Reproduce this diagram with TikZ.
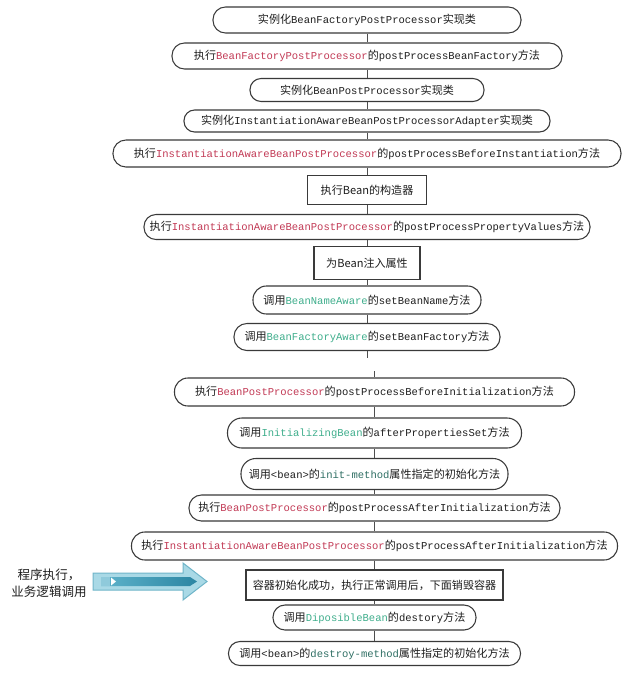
\documentclass[tikz,border=0pt]{standalone}
\usepackage{fontspec}
\setmainfont{Noto Sans CJK SC}
\newfontfamily\monofam{Liberation Mono}
\definecolor{cred}{HTML}{C23A55}
\definecolor{cgreen}{HTML}{3FAE8C}
\definecolor{cteal}{HTML}{2F6F64}
\definecolor{ctext}{HTML}{1E1E1E}
\definecolor{cedge}{HTML}{3A3A3A}
\definecolor{arrowout}{HTML}{A9D9E6}
\definecolor{arrowedge}{HTML}{6FB5C9}
\definecolor{arrowinA}{HTML}{5FB3CB}
\definecolor{arrowinB}{HTML}{2C86A3}
\newcommand\mcode[1]{{\monofam\fontsize{7.9}{9}\selectfont #1}}
\newcommand\rcode[1]{\textcolor{cred}{\mcode{#1}}}
\newcommand\gcode[1]{\textcolor{cgreen}{\mcode{#1}}}
\newcommand\tcode[1]{\textcolor{cteal}{\mcode{#1}}}
\tikzset{
  base/.style={draw=cedge, line width=0.8pt, inner sep=0pt, text=ctext,
    font=\fontsize{8.3}{10}\selectfont, align=center},
  pill/.style 2 args={base, minimum width=#1*0.75pt, minimum height=#2*0.75pt,
    rounded corners=#2*0.36pt},
  sqbox/.style 2 args={base, minimum width=#1*0.75pt, minimum height=#2*0.75pt},
  link/.style={draw=cedge!90, line width=0.75pt}
}
\begin{document}
\begin{tikzpicture}[x=0.75pt,y=-0.75pt]
\useasboundingbox (0,0) rectangle (640,678);
\fill[white] (0,0) rectangle (640,678);

% upper part
\node[pill={308}{26}] (n1) at (367,20) {实例化\mcode{BeanFactoryPostProcessor}实现类};
\node[pill={390}{26}] (n2) at (367,56) {执行\rcode{BeanFactoryPostProcessor}的\mcode{postProcessBeanFactory}方法};
\node[pill={234}{23}] (n3) at (367,90) {实例化\mcode{BeanPostProcessor}实现类};
\node[pill={366}{22}] (n4) at (367,121) {实例化\mcode{InstantiationAwareBeanPostProcessorAdapter}实现类};
\node[pill={508}{27}] (n5) at (367,153.5) {执行\rcode{InstantiationAwareBeanPostProcessor}的\mcode{postProcessBeforeInstantiation}方法};
\node[sqbox={119}{29}] (n6) at (367,190) {执行Bean的构造器};
\node[pill={446}{25}] (n7) at (367,227) {执行\rcode{InstantiationAwareBeanPostProcessor}的\mcode{postProcessPropertyValues}方法};
\node[sqbox={106}{33}] (n8) at (367,263) {为Bean注入属性};
\node[pill={228}{28}] (n9) at (367,300) {调用\gcode{BeanNameAware}的\mcode{setBeanName}方法};
\node[pill={266}{27}] (n10) at (367,337) {调用\gcode{BeanFactoryAware}的\mcode{setBeanFactory}方法};

% lower part
\node[pill={400}{28}] (n11) at (374.5,392) {执行\rcode{BeanPostProcessor}的\mcode{postProcessBeforeInitialization}方法};
\node[pill={294}{30}] (n12) at (374.5,433) {调用\gcode{InitializingBean}的\mcode{afterPropertiesSet}方法};
\node[pill={267}{31}] (n13) at (374.5,474) {调用\mcode{<bean>}的\tcode{init-method}属性指定的初始化方法};
\node[pill={371}{26}] (n14) at (374.5,508) {执行\rcode{BeanPostProcessor}的\mcode{postProcessAfterInitialization}方法};
\node[pill={486}{28}] (n15) at (374.5,546) {执行\rcode{InstantiationAwareBeanPostProcessor}的\mcode{postProcessAfterInitialization}方法};
\node[sqbox={257}{30}] (n16) at (374.5,585) {容器初始化成功，执行正常调用后，下面销毁容器};
\node[pill={203}{25}] (n17) at (374.5,617.5) {调用\gcode{DiposibleBean}的\mcode{destory}方法};
\node[pill={292}{24}] (n18) at (374.5,653.5) {调用\mcode{<bean>}的\tcode{destroy-method}属性指定的初始化方法};

% connectors
\foreach \a/\b in {n1/n2,n2/n3,n3/n4,n4/n5,n5/n6,n6/n7,n7/n8,n8/n9,n9/n10,
                   n11/n12,n12/n13,n13/n14,n14/n15,n15/n16,n16/n17,n17/n18}
  \draw[link] (\a) -- (\b);
\coordinate (j1) at (367,358);
\coordinate (j2) at (374.5,371);
\draw[link] (n10) -- (j1);
\draw[link] (j2) -- (n11);

% left label and block arrow
\node[font=\fontsize{9.4}{12.75}\selectfont, align=center, text=ctext, inner sep=0pt]
  (lbl) at (49,583) {程序执行，\\业务逻辑调用};
\filldraw[fill=arrowout, draw=arrowedge, line width=0.75pt]
  (93,573) -- (183,573) -- (183,563) -- (207,581.5) -- (183,600) -- (183,590) -- (93,590) -- cycle;
\shade[left color=arrowinA, right color=arrowinB]
  (101,577) -- (190,577) -- (197,581.5) -- (190,586) -- (101,586) -- cycle;
\fill[arrowinA!70!white] (101,577) rectangle (110,586);
\fill[white] (111,577.5) -- (116,581.5) -- (111,585.5) -- cycle;
\end{tikzpicture}
\end{document}
